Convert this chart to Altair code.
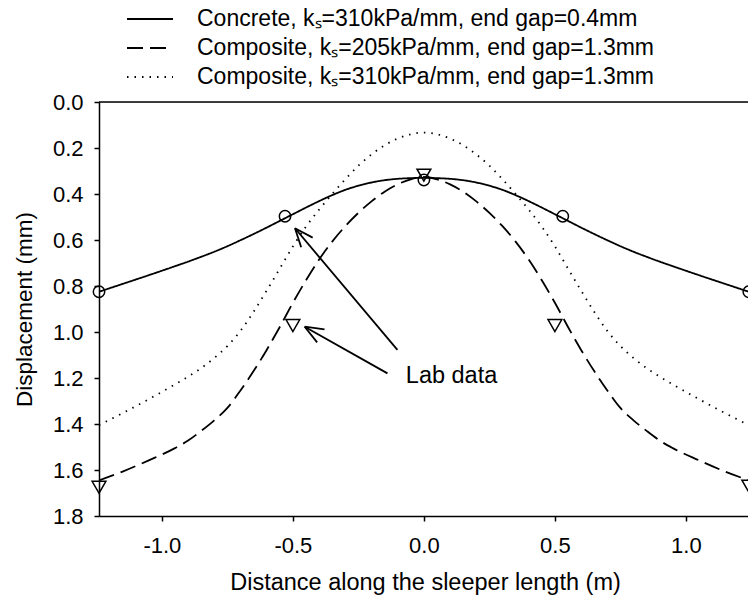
import math
import altair as alt
import pandas as pd

# ---------------- data ----------------
x_half = [-1.24, -1.15, -1.05, -0.95, -0.9, -0.85, -0.8, -0.75, -0.7, -0.65, -0.6,
          -0.55, -0.5, -0.45, -0.4, -0.35, -0.3, -0.25, -0.2, -0.15, -0.1, -0.05, 0.0]
concrete_half = [0.825, 0.791, 0.753, 0.714, 0.694, 0.673, 0.651, 0.627, 0.601, 0.574, 0.546,
                 0.517, 0.488, 0.459, 0.431, 0.405, 0.382, 0.364, 0.35, 0.34, 0.334, 0.331, 0.33]
comp205_half = [1.645, 1.607, 1.558, 1.505, 1.472, 1.43, 1.384, 1.33, 1.254, 1.17, 1.078,
                0.978, 0.873, 0.775, 0.685, 0.607, 0.54, 0.482, 0.432, 0.39, 0.358, 0.336, 0.326]
comp310_half = [1.405, 1.353, 1.292, 1.228, 1.194, 1.157, 1.113, 1.061, 0.995, 0.912, 0.82,
                0.724, 0.628, 0.542, 0.468, 0.400, 0.336, 0.277, 0.228, 0.188, 0.159, 0.14, 0.133]

lab_concrete_x = [-1.24, -0.53, 0.0, 0.53, 1.24]
lab_concrete_y = [0.825, 0.497, 0.339, 0.497, 0.825]
lab_comp_x = [-1.24, -0.5, 0.0, 0.5, 1.24]
lab_comp_y = [1.675, 0.972, 0.318, 0.972, 1.67]

series_names = ["Concrete, kₛ=310kPa/mm, end gap=0.4mm",
                "Composite, kₛ=205kPa/mm, end gap=1.3mm",
                "Composite, kₛ=310kPa/mm, end gap=1.3mm"]

x_ticks = [-1.0, -0.5, 0.0, 0.5, 1.0]
y_ticks = [0.0, 0.2, 0.4, 0.6, 0.8, 1.0, 1.2, 1.4, 1.6, 1.8]

# arrows: (tail x, tail y, tip x, tip y) in data units
arrow_tail_x = [-0.101, -0.139]
arrow_tail_y = [1.078, 1.18]
arrow_tip_x = [-0.492, -0.455]
arrow_tip_y = [0.549, 0.977]
label_text = "Lab data"
label_x = -0.069
label_y = 1.19

# ---------------- layout ----------------
X_DOMAIN = [-1.24, 1.237]
Y_DOMAIN = [0.0, 1.8]
W, H = 649, 414
FONT = "Liberation Sans"

# full symmetric curves
def mirror(xs, ys):
    xr = [-v for v in reversed(xs[:-1])]
    yr = list(reversed(ys[:-1]))
    return xs + xr, ys + yr

rows = []
for name, half in zip(series_names, [concrete_half, comp205_half, comp310_half]):
    xs, ys = mirror(x_half, half)
    for i, (a, b) in enumerate(zip(xs, ys)):
        rows.append({"series": name, "x": a, "y": b, "order": i})
curves = pd.DataFrame(rows)

lab = pd.DataFrame(
    [{"kind": "Concrete", "x": a, "y": b} for a, b in zip(lab_concrete_x, lab_concrete_y)]
    + [{"kind": "Composite", "x": a, "y": b} for a, b in zip(lab_comp_x, lab_comp_y)]
)

# arrow shafts and heads (heads computed in pixel space, then back to data units)
px_x = W / (X_DOMAIN[1] - X_DOMAIN[0])
px_y = H / (Y_DOMAIN[1] - Y_DOMAIN[0])
seg = []
for tx, ty, hx, hy in zip(arrow_tail_x, arrow_tail_y, arrow_tip_x, arrow_tip_y):
    seg.append({"x": tx, "y": ty, "x2": hx, "y2": hy})
    dxp = (tx - hx) * px_x
    dyp = (ty - hy) * px_y
    L = math.hypot(dxp, dyp)
    ux, uy = dxp / L, dyp / L
    for ang in (22, -22):
        a = math.radians(ang)
        rx = ux * math.cos(a) - uy * math.sin(a)
        ry = ux * math.sin(a) + uy * math.cos(a)
        seg.append({"x": hx, "y": hy, "x2": hx + rx * 20 / px_x, "y2": hy + ry * 20 / px_y})
arrows = pd.DataFrame(seg)

xscale = alt.Scale(domain=X_DOMAIN, nice=False, zero=False)
yscale = alt.Scale(domain=Y_DOMAIN, nice=False, zero=False, reverse=True)

x_axis = alt.Axis(
    values=x_ticks, grid=False, domainColor="black", domainWidth=1.5,
    tickColor="black", tickWidth=1.5, tickSize=5, labelFont=FONT, labelFontSize=22,
    labelColor="black", labelPadding=14,
    labelExpr="datum.value < 0 ? '-' + format(-datum.value, '.1f') : format(datum.value, '.1f')",
    title="Distance along the sleeper length (m)", titleFont=FONT, titleFontSize=23.5,
    titleFontWeight="normal", titleColor="black", titleX=326, titleY=66,
    titleBaseline="middle", titleAlign="center",
)
y_axis = alt.Axis(
    values=y_ticks, format=".1f", grid=False, domainColor="black", domainWidth=1.5,
    tickColor="black", tickWidth=1.5, tickSize=5, labelFont=FONT, labelFontSize=22,
    labelColor="black", labelPadding=11,
    title="Displacement (mm)", titleFont=FONT, titleFontSize=22.5, titleFontWeight="normal",
    titleColor="black", titleX=-75, titleY=H / 2, titleAngle=-90,
    titleBaseline="middle", titleAlign="center",
)

lines = alt.Chart(curves).mark_line(
    color="black", strokeWidth=1.8, clip=True, interpolate="monotone"
).encode(
    x=alt.X("x:Q", scale=xscale, axis=x_axis),
    y=alt.Y("y:Q", scale=yscale, axis=y_axis),
    order="order:Q",
    strokeDash=alt.StrokeDash(
        "series:N",
        scale=alt.Scale(domain=series_names, range=[[1, 0], [16, 7], [1.5, 6]]),
        legend=alt.Legend(
            title=None, orient="none", legendX=27, legendY=-93, padding=0,
            symbolType="stroke", symbolSize=2116, symbolStrokeWidth=1.8,
            symbolStrokeColor="black", clipHeight=20, rowPadding=6, labelOffset=23,
            labelFont=FONT, labelFontSize=23, labelColor="black", labelLimit=0,
        ),
    ),
)

points = alt.Chart(lab).mark_point(
    filled=False, color="black", strokeWidth=1.5, opacity=1, clip=False
).encode(
    x=alt.X("x:Q", scale=xscale),
    y=alt.Y("y:Q", scale=yscale),
    shape=alt.Shape("kind:N", scale=alt.Scale(domain=["Concrete", "Composite"],
                                               range=["circle", "triangle-down"]), legend=None),
    size=alt.Size("kind:N", scale=alt.Scale(domain=["Concrete", "Composite"],
                                             range=[130, 190]), legend=None),
)

arrow_marks = alt.Chart(arrows).mark_rule(color="black", strokeWidth=1.8).encode(
    x=alt.X("x:Q", scale=xscale), y=alt.Y("y:Q", scale=yscale),
    x2="x2:Q", y2="y2:Q",
)

label = alt.Chart(pd.DataFrame({"x": [label_x], "y": [label_y], "t": [label_text]})).mark_text(
    align="left", baseline="middle", font=FONT, fontSize=23.5, color="black"
).encode(x=alt.X("x:Q", scale=xscale), y=alt.Y("y:Q", scale=yscale), text="t:N")

top_line = alt.Chart(pd.DataFrame({"y": [Y_DOMAIN[0]]})).mark_rule(
    color="black", strokeWidth=1.5
).encode(y=alt.Y("y:Q", scale=yscale))

chart = alt.layer(lines, points, arrow_marks, label, top_line).properties(
    width=W, height=H,
    autosize=alt.AutoSizeParams(type="none"),
    padding={"left": 99, "top": 102, "right": 0, "bottom": 83},
).configure_view(stroke=None).configure(background="white")

chart.save("out.html", embed_options={"renderer": "svg", "actions": False})
